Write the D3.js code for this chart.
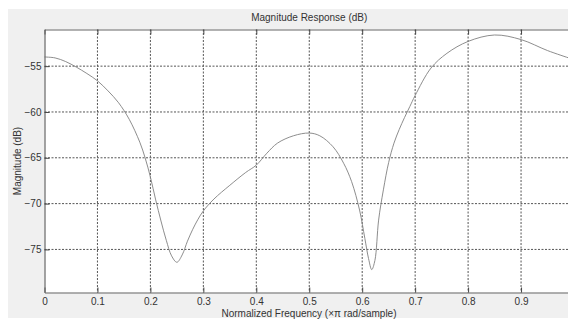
<!DOCTYPE html>
<html>
<head>
<meta charset="utf-8">
<script src="https://cdn.jsdelivr.net/npm/d3@7"></script>
<style>
  body { margin: 0; background: #fff; }
  svg text { font-family: "Liberation Sans", Arial, sans-serif; fill: #333; }
</style>
</head>
<body>
<div id="chart"></div>
<script>
// normalized frequency (x pi rad/sample)
const freq = [0, 0.02, 0.04, 0.06, 0.08, 0.1, 0.12, 0.14, 0.16, 0.18, 0.19, 0.2, 0.21, 0.22, 0.23, 0.24,
  0.25, 0.26, 0.27, 0.28, 0.29, 0.3, 0.32, 0.35, 0.38, 0.4, 0.42, 0.44, 0.47, 0.5, 0.52, 0.545, 0.565,
  0.58, 0.595, 0.605, 0.612, 0.618, 0.624, 0.631, 0.64, 0.65, 0.66, 0.67, 0.68, 0.69, 0.7, 0.73, 0.76,
  0.8, 0.85, 0.9, 0.95, 0.99];
// magnitude in dB
const magnitude = [-54.0, -54.1, -54.5, -55.1, -55.8, -56.6, -57.7, -59.0, -60.8, -63.3, -65.0, -67.1,
  -69.6, -71.9, -74.0, -75.7, -76.4, -75.6, -74.1, -72.8, -71.7, -70.8, -69.5, -68.0, -66.6, -65.8,
  -64.5, -63.4, -62.6, -62.3, -62.6, -63.8, -65.6, -67.6, -70.7, -73.8, -76.0, -77.2, -76.2, -71.8,
  -68.5, -65.5, -63.4, -61.9, -60.6, -59.4, -58.2, -55.2, -53.6, -52.3, -51.6, -52.1, -53.3, -54.1];
const xTicks = [0, 0.1, 0.2, 0.3, 0.4, 0.5, 0.6, 0.7, 0.8, 0.9];
const yTicks = [-75, -70, -65, -60, -55];

const width = 568, height = 324;
const margin = { top: 29.5, right: -6, bottom: 31.5, left: 44.5 };
const w = width - margin.left - margin.right;
const h = height - margin.top - margin.bottom;

const svg = d3.select('#chart').append('svg')
  .attr('width', width)
  .attr('height', height);

// grey figure panel
svg.append('rect')
  .attr('x', 8).attr('y', 9)
  .attr('width', width - 8).attr('height', 309)
  .attr('fill', '#f0f0f0');

const x = d3.scaleLinear().domain([0, 1]).range([0, w]);
const y = d3.scaleLinear().domain([-79.7, -51.0]).range([h, 0]);

const g = svg.append('g')
  .attr('transform', 'translate(' + margin.left + ',' + margin.top + ')');

g.append('rect')
  .attr('width', w).attr('height', h)
  .attr('fill', '#fff');

// grid lines
g.append('g').selectAll('line').data(xTicks.slice(1)).enter()
  .append('line')
  .attr('x1', d => x(d)).attr('x2', d => x(d))
  .attr('y1', 0).attr('y2', h)
  .attr('stroke', '#555').attr('stroke-width', 1)
  .attr('stroke-dasharray', '2,1.5');

g.append('g').selectAll('line').data(yTicks).enter()
  .append('line')
  .attr('x1', 0).attr('x2', w)
  .attr('y1', d => y(d)).attr('y2', d => y(d))
  .attr('stroke', '#555').attr('stroke-width', 1)
  .attr('stroke-dasharray', '2,1.5');

// response curve
const line = d3.line()
  .x(d => x(d[0]))
  .y(d => y(d[1]))
  .curve(d3.curveCatmullRom.alpha(0.5));

g.append('path')
  .datum(freq.map((f, i) => [f, magnitude[i]]))
  .attr('d', line)
  .attr('fill', 'none')
  .attr('stroke', '#808080')
  .attr('stroke-width', 0.9);

// axes
const xAxis = g.append('g')
  .attr('class', 'x-axis')
  .attr('transform', 'translate(0,' + h + ')')
  .call(d3.axisBottom(x).tickValues(xTicks).tickFormat(d3.format('')).tickSizeInner(-5).tickSizeOuter(0).tickPadding(5));

const xTop = g.append('g')
  .call(d3.axisTop(x).tickValues(xTicks).tickFormat('').tickSizeInner(-5).tickSizeOuter(0));

const yAxis = g.append('g')
  .attr('class', 'y-axis')
  .call(d3.axisLeft(y).tickValues(yTicks).tickSizeInner(-5).tickSizeOuter(0).tickPadding(3));

[xAxis, xTop, yAxis].forEach(a => {
  a.selectAll('.domain').attr('stroke', '#666').attr('stroke-width', 1.2);
  a.selectAll('.tick line').attr('stroke', '#444');
  a.selectAll('text').style('font-size', '10px').attr('fill', '#333');
});

// titles
svg.append('text')
  .attr('x', margin.left + w / 2).attr('y', 21)
  .attr('text-anchor', 'middle')
  .style('font-size', '10px')
  .text('Magnitude Response (dB)');

svg.append('text')
  .attr('x', 309).attr('y', 317)
  .attr('text-anchor', 'middle')
  .style('font-size', '10px')
  .text('Normalized Frequency (×π rad/sample)');

svg.append('text')
  .attr('transform', 'translate(21,' + (margin.top + h / 2) + ') rotate(-90)')
  .attr('text-anchor', 'middle')
  .style('font-size', '10px')
  .text('Magnitude (dB)');
</script>
</body>
</html>
